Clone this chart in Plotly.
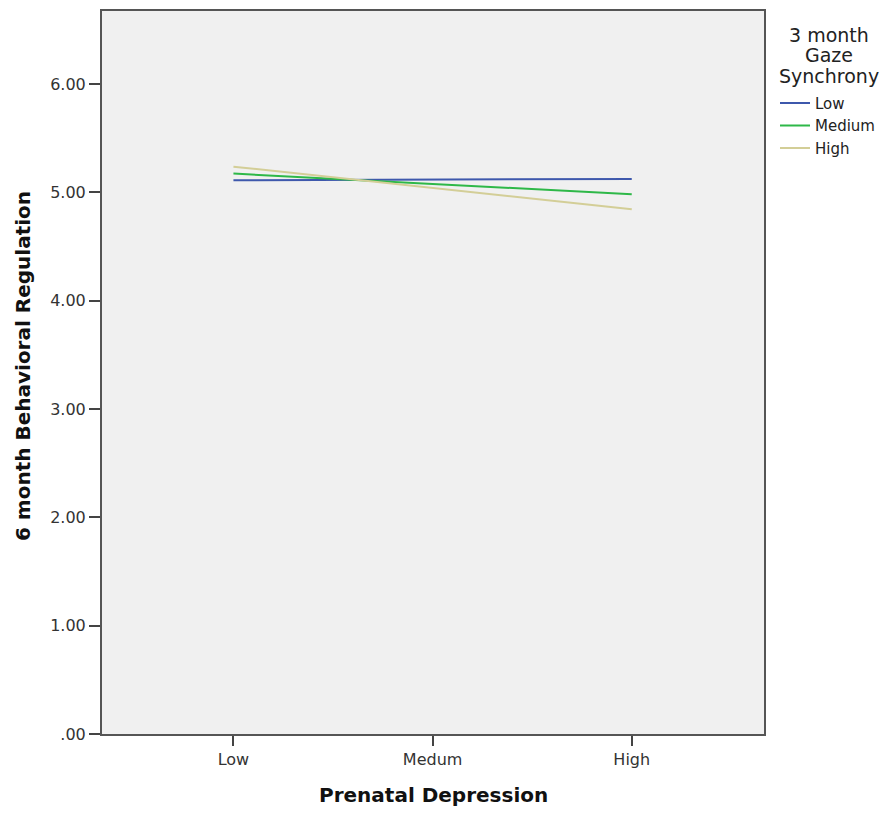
import plotly.graph_objects as go

categories = ["Low", "Medum", "High"]
x_pos = [0, 1, 2]
series_names = ["Low", "Medium", "High"]
low_vals = [5.112, 5.118, 5.124]
medium_vals = [5.173, 5.078, 4.983]
high_vals = [5.237, 5.041, 4.845]
y_tickvals = [0, 1, 2, 3, 4, 5, 6]
y_ticktext = [".00", "1.00", "2.00", "3.00", "4.00", "5.00", "6.00"]
legend_title_lines = ["3 month", "Gaze", "Synchrony"]
colors = ["#3E58AC", "#2EB848", "#D3CE97"]

fig = go.Figure()
for name, vals, c in zip(series_names, [low_vals, medium_vals, high_vals], colors):
    fig.add_trace(go.Scatter(x=x_pos, y=vals, mode="lines", name=name,
                             line=dict(color=c, width=2)))

# page body has an 8px margin; figure sized to fit the window
W, H = 882, 807
L, R, T, B = 102, 764, 9, 734   # plot area in screen coordinates
PW, PH = R - L, B - T


def px(xs):
    return (xs - L) / PW


def py(ys):
    return (B - ys) / PH


annotations = [
    dict(text="<b>Prenatal Depression</b>", xref="paper", yref="paper",
         x=px(433), y=py(795), xanchor="center", yanchor="middle",
         showarrow=False, font=dict(size=20, color="#111111")),
    dict(text="<b>6 month Behavioral Regulation</b>", xref="paper", yref="paper",
         x=px(23), y=py(365), xanchor="center", yanchor="middle",
         textangle=-90, showarrow=False, font=dict(size=20, color="#111111")),
]
for line, yc in zip(legend_title_lines, [33, 53, 74]):
    annotations.append(dict(text=line, xref="paper", yref="paper",
                            x=px(829), y=py(yc), xanchor="center", yanchor="middle",
                            showarrow=False, font=dict(size=19, color="#222222")))

fig.update_layout(
    width=W, height=H,
    margin=dict(l=L - 8, r=W - (R - 8), t=T - 8, b=H - (B - 8)),
    paper_bgcolor="white", plot_bgcolor="#F0F0F0",
    font=dict(family="DejaVu Sans", color="#333333", size=16),
    showlegend=True,
    legend=dict(x=px(775), xanchor="left", y=py(85), yanchor="top",
                font=dict(size=15, color="#222222"),
                bgcolor="rgba(0,0,0,0)", tracegroupgap=0, itemwidth=30),
    xaxis=dict(range=[-0.66, 2.664], tickvals=x_pos, ticktext=categories,
               showgrid=False, zeroline=False, ticks="outside", ticklen=10,
               tickcolor="#444444", tickwidth=2, showline=True, linecolor="#555555",
               linewidth=2, mirror=True, tickfont=dict(size=16, color="#333333")),
    yaxis=dict(range=[0, 6.674], tickvals=y_tickvals, ticktext=y_ticktext,
               showgrid=False, zeroline=False, ticks="outside", ticklen=11,
               tickcolor="#444444", tickwidth=2, showline=True, linecolor="#555555",
               linewidth=2, mirror=True, tickfont=dict(size=16, color="#333333")),
    annotations=annotations,
)

fig.write_html("out.html")
